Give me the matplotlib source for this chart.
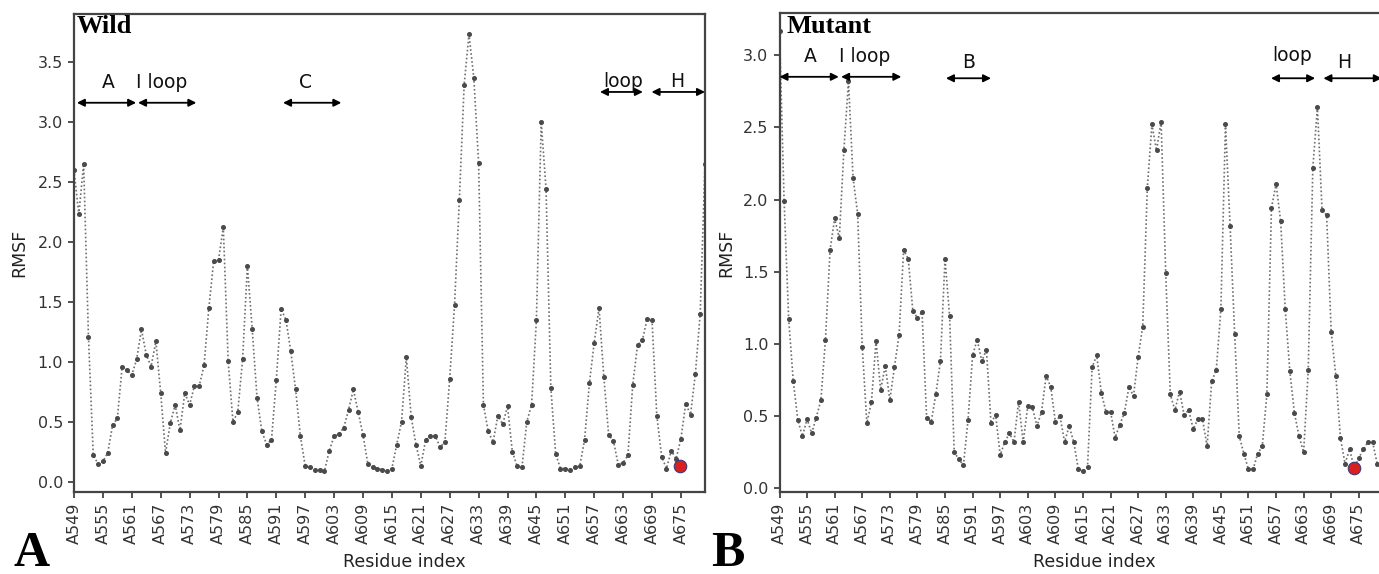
import matplotlib
matplotlib.use("Agg")
import matplotlib.pyplot as plt
import numpy as np

# Residue numbers (A549 .. A680)
residues = np.arange(549, 681)

# RMSF, wild type
wild_rmsf = [
    2.60, 2.23, 2.65, 1.21, 0.22, 0.15, 0.17, 0.24, 0.47, 0.53,
    0.96, 0.93, 0.89, 1.02, 1.27, 1.06, 0.96, 1.17, 0.74, 0.24,
    0.49, 0.64, 0.43, 0.74, 0.64, 0.80, 0.80, 0.97, 1.45, 1.84,
    1.85, 2.12, 1.01, 0.50, 0.58, 1.02, 1.80, 1.27, 0.70, 0.42,
    0.31, 0.35, 0.85, 1.44, 1.35, 1.09, 0.77, 0.38, 0.13, 0.12,
    0.10, 0.10, 0.09, 0.26, 0.38, 0.40, 0.45, 0.60, 0.77, 0.58,
    0.39, 0.15, 0.12, 0.11, 0.10, 0.09, 0.11, 0.31, 0.50, 1.04,
    0.54, 0.31, 0.13, 0.35, 0.38, 0.38, 0.29, 0.33, 0.86, 1.47,
    2.35, 3.31, 3.73, 3.37, 2.66, 0.64, 0.42, 0.33, 0.55, 0.48,
    0.63, 0.25, 0.13, 0.12, 0.50, 0.64, 1.35, 3.00, 2.44, 0.78,
    0.23, 0.11, 0.11, 0.10, 0.12, 0.13, 0.35, 0.82, 1.16, 1.45,
    0.87, 0.39, 0.34, 0.14, 0.16, 0.22, 0.81, 1.14, 1.18, 1.36,
    1.35, 0.55, 0.21, 0.11, 0.26, 0.19, 0.36, 0.65, 0.56, 0.90,
    1.40, 2.65,
]

# RMSF, mutant
mutant_rmsf = [
    3.17, 1.99, 1.17, 0.74, 0.47, 0.36, 0.48, 0.38, 0.49, 0.61,
    1.03, 1.65, 1.87, 1.73, 2.34, 2.82, 2.15, 1.90, 0.98, 0.45,
    0.60, 1.02, 0.68, 0.85, 0.61, 0.84, 1.06, 1.65, 1.59, 1.23,
    1.18, 1.22, 0.49, 0.46, 0.65, 0.88, 1.59, 1.19, 0.25, 0.20,
    0.16, 0.47, 0.92, 1.03, 0.88, 0.96, 0.45, 0.51, 0.23, 0.32,
    0.38, 0.32, 0.60, 0.32, 0.57, 0.56, 0.43, 0.53, 0.78, 0.70,
    0.46, 0.50, 0.32, 0.43, 0.32, 0.13, 0.12, 0.15, 0.84, 0.92,
    0.66, 0.53, 0.53, 0.35, 0.44, 0.52, 0.70, 0.64, 0.91, 1.12,
    2.08, 2.52, 2.34, 2.54, 1.49, 0.65, 0.54, 0.67, 0.51, 0.54,
    0.41, 0.48, 0.48, 0.29, 0.74, 0.82, 1.24, 2.52, 1.82, 1.07,
    0.36, 0.24, 0.13, 0.13, 0.24, 0.29, 0.65, 1.94, 2.11, 1.85,
    1.24, 0.81, 0.52, 0.36, 0.25, 0.82, 2.22, 2.64, 1.93, 1.89,
    1.08, 0.78, 0.35, 0.17, 0.27, 0.14, 0.21, 0.27, 0.32, 0.32,
    0.17, 0.15,
]

tick_res = list(range(549, 676, 6))
tick_labels = [f"A{r}" for r in tick_res]

# mutation site marker (residue, rmsf)
wild_site = (674.8, 0.13)
mutant_site = (674.0, 0.14)

# region arrows: (label, start, end, arrow y, label x, label y)
wild_regions = [
    ("A", 549.6, 561.9, 3.16, 556.1, 3.33),
    ("I loop", 562.3, 574.4, 3.16, 567.2, 3.33),
    ("C", 592.4, 604.5, 3.16, 597.0, 3.33),
    ("loop", 658.2, 667.1, 3.25, 662.9, 3.34),
    ("H", 668.9, 680.0, 3.25, 674.2, 3.34),
]
mutant_regions = [
    ("A", 549.0, 561.9, 2.85, 555.7, 2.99),
    ("I loop", 562.4, 575.5, 2.85, 567.5, 2.99),
    ("B", 585.2, 595.0, 2.84, 590.2, 2.95),
    ("loop", 655.9, 665.5, 2.84, 660.6, 3.00),
    ("H", 667.3, 680.0, 2.84, 671.9, 2.95),
]

W, H = 1379, 574
fig = plt.figure(figsize=(W / 100, H / 100), dpi=100)

ax_w = fig.add_axes([74 / W, 1 - 491.7 / H, 631 / W, 477.7 / H])
ax_m = fig.add_axes([779.5 / W, 1 - 491.7 / H, 602.3 / W, 478.4 / H])


def draw_panel(ax, values, site, regions, ylim, yticks, title, title_x):
    ax.plot(residues, values, linestyle=(0, (1, 1.4)), linewidth=1.2,
            color="#6f6f6f", marker="o", markersize=2.6,
            markerfacecolor="#4a4a4a", markeredgecolor="#4a4a4a")
    ax.plot([site[0]], [site[1]], marker="o", markersize=9,
            markerfacecolor="#d91f1f", markeredgecolor="#3b3b7a",
            markeredgewidth=0.8, linestyle="none", zorder=5)
    ax.set_xlim(549, 680)
    ax.set_ylim(*ylim)
    ax.set_xticks(tick_res)
    ax.set_xticklabels(tick_labels, rotation=90)
    ax.set_yticks(yticks)
    ax.set_yticklabels([f"{t:.1f}" for t in yticks])
    ax.tick_params(labelsize=11.5, colors="#333333", length=4.5, width=1.2)
    for sp in ax.spines.values():
        sp.set_color("#444444")
        sp.set_linewidth(1.6)
    ax.set_xlabel("Residue index", fontsize=12.5, color="#222222")
    ax.set_ylabel("RMSF", fontsize=12.5, color="#222222")
    ax.xaxis.set_label_coords(0.523, -0.128)
    for label, x0, x1, ya, xt, yt in regions:
        ax.annotate("", xy=(x1, ya), xytext=(x0, ya),
                    arrowprops=dict(arrowstyle="<|-|>", color="black", lw=1.3,
                                    mutation_scale=11, shrinkA=0, shrinkB=0),
                    annotation_clip=False)
        ax.text(xt, yt, label, ha="center", va="center", fontsize=13.5,
                color="#111111")
    ax.text(title_x, 0.997, title, transform=ax.transAxes, ha="left", va="top",
            fontsize=19, fontweight="bold", family="Liberation Serif")


draw_panel(ax_w, wild_rmsf, wild_site, wild_regions, (-0.083, 3.90),
           [0.0, 0.5, 1.0, 1.5, 2.0, 2.5, 3.0, 3.5], "Wild", 0.004)
draw_panel(ax_m, mutant_rmsf, mutant_site, mutant_regions, (-0.024, 3.29),
           [0.0, 0.5, 1.0, 1.5, 2.0, 2.5, 3.0], "Mutant", 0.012)
ax_w.yaxis.set_label_coords(-0.073, 0.5)
ax_m.yaxis.set_label_coords(-0.074, 0.5)

fig.text(13 / W, 1 - 566 / H, "A", fontsize=36, fontweight="bold",
         family="Liberation Serif", ha="left", va="baseline")
fig.text(711 / W, 1 - 566 / H, "B", fontsize=36, fontweight="bold",
         family="Liberation Serif", ha="left", va="baseline")

fig.savefig("out.png", dpi=100)
